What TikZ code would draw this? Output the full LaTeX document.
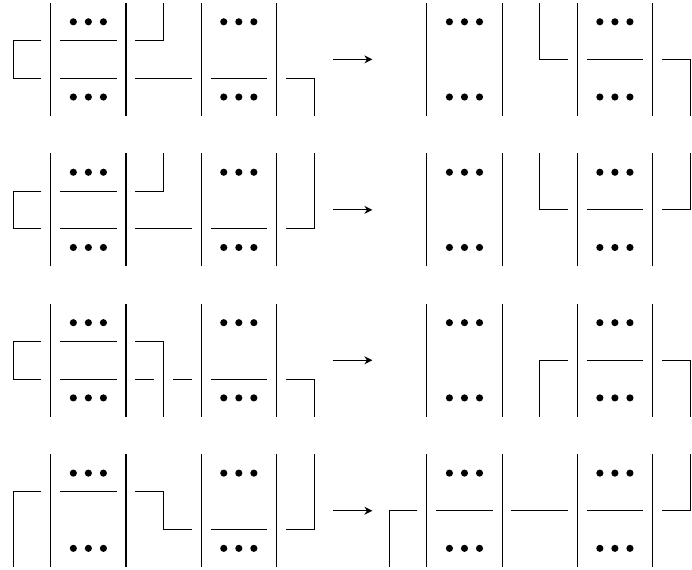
\documentclass[tikz,border=0pt]{standalone}
\usetikzlibrary{arrows.meta}
\begin{document}
\begin{tikzpicture}[x=0.5cm, y=0.5cm, line width=0.8pt, line join=miter, >={Stealth[length=6pt,width=6pt]}]
	\tikzset{mydot/.style={fill=black}}
	\useasboundingbox (0,0) rectangle (36.8,30.26);
	% Các vạch đứng, dấu chấm và mũi tên
	\foreach \k in {0,1,2,3}{
		\foreach \x in {2.7,6.7,10.7,14.7,22.7,26.7,30.7,34.7}
		\draw (\x,8*\k+0.1) -- ++(0,6);
		\foreach \c in {4.7,12.7,24.7,32.7}
		\foreach \d in {-0.8,0,0.8}
		\fill[mydot] (\c+\d,8*\k+1.1) circle (2.7pt) (\c+\d,8*\k+5.1) circle (2.7pt);
		\draw[->] (17.7,8*\k+3.1) -- (19.8,8*\k+3.1);
	}
	% Hàng 1
	\begin{scope}[shift={(0,24.1)}]
		\draw (2.2,4) -- (0.7,4) -- (0.7,2) -- (2.2,2);
		\draw (3.2,4) -- (6.2,4) (3.2,2) -- (6.2,2);
		\draw (7.2,4) -- (8.7,4) -- (8.7,6) (7.2,2) -- (10.2,2);
		\draw (11.2,2) -- (14.2,2);
		\draw (15.2,2) -- (16.7,2) -- (16.7,0);
		\draw (28.7,6) -- (28.7,3) -- (30.2,3);
		\draw (31.2,3) -- (34.2,3);
		\draw (35.2,3) -- (36.7,3) -- (36.7,0);
	\end{scope}
	% Hàng 2
	\begin{scope}[shift={(0,16.1)}]
		\draw (2.2,4) -- (0.7,4) -- (0.7,2) -- (2.2,2);
		\draw (3.2,4) -- (6.2,4) (3.2,2) -- (6.2,2);
		\draw (7.2,4) -- (8.7,4) -- (8.7,6) (7.2,2) -- (10.2,2);
		\draw (11.2,2) -- (14.2,2);
		\draw (15.2,2) -- (16.7,2) -- (16.7,6);
		\draw (28.7,6) -- (28.7,3) -- (30.2,3);
		\draw (31.2,3) -- (34.2,3);
		\draw (35.2,3) -- (36.7,3) -- (36.7,6);
	\end{scope}
	% Hàng 3
	\begin{scope}[shift={(0,8.1)}]
		\draw (2.2,4) -- (0.7,4) -- (0.7,2) -- (2.2,2);
		\draw (3.2,4) -- (6.2,4) (3.2,2) -- (6.2,2);
		\draw (7.2,4) -- (8.7,4) -- (8.7,0) (7.2,2) -- (8.2,2) (9.2,2) -- (10.2,2);
		\draw (11.2,2) -- (14.2,2);
		\draw (15.2,2) -- (16.7,2) -- (16.7,0);
		\draw (30.2,3) -- (28.7,3) -- (28.7,0);
		\draw (31.2,3) -- (34.2,3);
		\draw (35.2,3) -- (36.7,3) -- (36.7,0);
	\end{scope}
	% Hàng 4
	\begin{scope}[shift={(0,0.1)}]
		\draw (2.2,4) -- (0.7,4) -- (0.7,0);
		\draw (3.2,4) -- (6.2,4);
		\draw (7.2,4) -- (8.7,4) -- (8.7,2) -- (10.2,2);
		\draw (11.2,2) -- (14.2,2);
		\draw (15.2,2) -- (16.7,2) -- (16.7,6);
		\draw (22.2,3) -- (20.7,3) -- (20.7,0);
		\draw (23.2,3) -- (26.2,3) (27.2,3) -- (30.2,3);
		\draw (31.2,3) -- (34.2,3);
		\draw (35.2,3) -- (36.7,3) -- (36.7,6);
	\end{scope}
\end{tikzpicture}
\end{document}
